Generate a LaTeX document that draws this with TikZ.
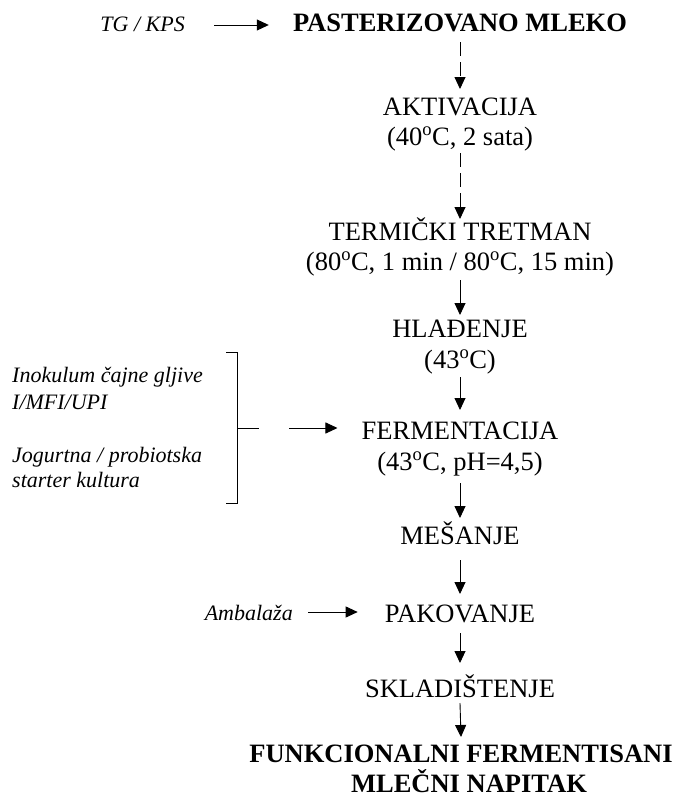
\documentclass[tikz,border=0pt]{standalone}
\usepackage{fontspec}
\setmainfont{Liberation Serif}
\usetikzlibrary{arrows.meta,calc}
\begin{document}
\begin{tikzpicture}[x=1pt,y=-1pt,
 main/.style={anchor=base,inner sep=0pt,text height=18.5pt,text depth=5pt,font=\fontsize{26.5}{30}\selectfont},
 bmain/.style={anchor=base,inner sep=0pt,text height=18.5pt,text depth=5pt,font=\fontsize{26.5}{30}\selectfont\bfseries},
 lab/.style={inner sep=0pt,text height=15.5pt,text depth=5pt,font=\fontsize{22}{26}\selectfont\itshape},
 arr/.style={line width=0.9pt,-{Triangle[length=12pt,width=11pt]}},
 darr/.style={arr,dash pattern=on 14pt off 6pt},
 ln/.style={line width=0.9pt}]
\useasboundingbox[fill=white] (0,0) rectangle (676,798);
% main column
\node[bmain] (past) at (460,31) {PASTERIZOVANO MLEKO};
\node[main] (akt) at (460,115) {AKTIVACIJA};
\node[main] (akt2) at (460,145) {(40\textsuperscript{o}C, 2 sata)};
\node[main] (term) at (460,240) {TERMIČKI TRETMAN};
\node[main] (term2) at (460,270) {(80\textsuperscript{o}C, 1 min / 80\textsuperscript{o}C, 15 min)};
\node[main] (hlad) at (460,337) {HLAĐENJE};
\node[main] (hlad2) at (460,368) {(43\textsuperscript{o}C)};
\node[main] (ferm) at (460,439) {FERMENTACIJA};
\node[main] (ferm2) at (460,470) {(43\textsuperscript{o}C, pH=4,5)};
\node[main] (mes) at (460,544) {MEŠANJE};
\node[main] (pak) at (460,622) {PAKOVANJE};
\node[main] (skl) at (460,697) {SKLADIŠTENJE};
\node[bmain] (fun) at (461,762) {FUNKCIONALNI FERMENTISANI};
\node[bmain] (fun2) at (469,792) {MLEČNI NAPITAK};
% side labels
\node[lab,anchor=base east] (tg) at (185,31) {TG / KPS};
\node[lab,anchor=base east] (amb) at (293,620) {Ambalaža};
\node[lab,anchor=base west] (ino1) at (12,382) {Inokulum čajne gljive};
\node[lab,anchor=base west] (ino2) at (12,409) {I/MFI/UPI};
\node[lab,anchor=base west] (jog1) at (12,462) {Jogurtna / probiotska};
\node[lab,anchor=base west] (jog2) at (12,487) {starter kultura};
% vertical arrows
\draw[darr] ($(past.base)+(0,11)$) -- ($(akt.base)+(0,-26)$);
\draw[darr] ($(akt2.base)+(0,8)$) -- ($(term.base)+(0,-21)$);
\draw[arr] ($(term2.base)+(0,10)$) -- ($(hlad.base)+(0,-22)$);
\draw[arr] ($(hlad2.base)+(0,9)$) -- ($(ferm.base)+(0,-29)$);
\draw[arr] ($(ferm2.base)+(0,13)$) -- ($(mes.base)+(0,-26)$);
\draw[arr] ($(mes.base)+(0,16)$) -- ($(pak.base)+(0,-28)$);
\draw[arr] ($(pak.base)+(0,11)$) -- ($(skl.base)+(0,-34)$);
\draw[arr] ($(skl.base)+(0,6)$) -- ($(fun.base)+(0,-25)$);
% horizontal arrows
\draw[arr] ($(tg.base east)+(29,-6)$) -- ($(past.base west)+(-24,-6)$);
\draw[arr] ($(amb.base east)+(15,-8)$) -- ($(pak.base west)+(-27,-10)$);
% bracket
\coordinate (bt) at (237,352);
\coordinate (bb) at (237,503);
\coordinate (bm) at (237,428);
\coordinate (brarrow) at (289,428);
\draw[ln] ($(bt)+(-11,0)$) -- (bt) -- (bb) -- ($(bb)+(-11,0)$);
\draw[ln] (bm) -- ($(bm)+(22,0)$);
\draw[arr] (brarrow) -- ($(ferm.base west)+(-24,-11)$);
\end{tikzpicture}
\end{document}
